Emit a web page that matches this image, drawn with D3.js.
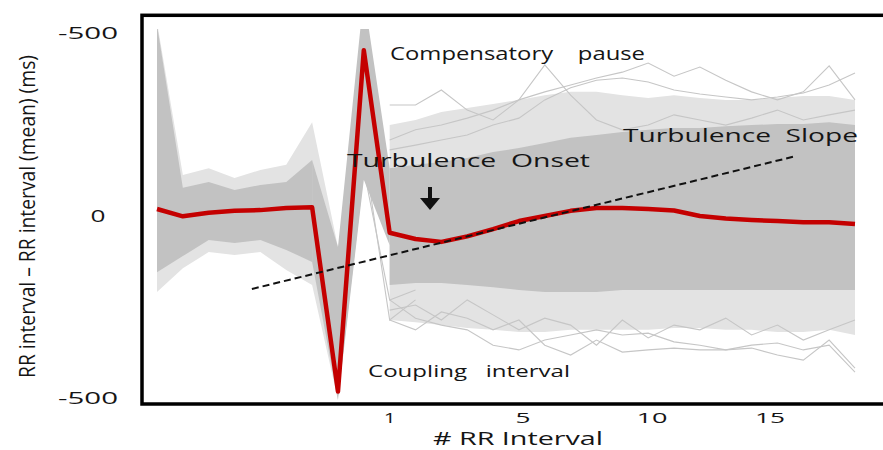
<!DOCTYPE html>
<html>
<head>
<meta charset="utf-8">
<script src="https://cdn.jsdelivr.net/npm/d3@7"></script>
<style>
  body { margin: 0; background: #fff; }
  svg { display: block; }
  text { font-family: "Open Sans", "DejaVu Sans", sans-serif; fill: #151515; white-space: pre; }
</style>
</head>
<body>
<svg id="chart" width="883" height="450"></svg>
<script>
// beat index 0..27 : 7 = coupling interval (PVC), 8 = compensatory pause, 9 = RR #1
const beats = d3.range(28);

// mean deviation RR - mean RR (ms), red curve
const meanDev = [-15, 5, -5, -10, -12, -18, -20, 485, -450, 50, 67, 75, 60, 40,
  18, 4, -10, -18, -18, -15, -11, 4, 11, 15, 18, 21, 21, 26];

// dense grey band of individual recordings (envelope, ms)
const preStart = 0;
const preCoreTop = [-519, -73, -89, -67, -81, -89, -149];
const preCoreBottom = [158, 114, 70, 78, 70, 97, 130];
const spikeStart = 6;
const spikeCoreTop = [-149, 89, -601, -127];
const spikeCoreBottom = [130, 508, -95, 84];
const postStart = 9;
const postCoreTop = [-127, -136, -144, -155, -171, -182, -196, -210, -218, -226,
  -232, -237, -237, -242, -245, -248, -248, -253, -245];
const postCoreBottom = [193, 188, 188, 193, 199, 207, 212, 212, 212, 207,
  207, 207, 207, 207, 207, 207, 207, 207, 207];

// sparser fringe of recordings around the dense band
const preHaloTop = [-527, -108, -127, -100, -122, -136, -253, 89];
const preHaloBottom = [212, 147, 103, 111, 103, 152, 193, 508];
const postHaloTop = [-245, -259, -281, -292, -303, -314, -327, -336, -336, -327,
  -319, -327, -319, -314, -314, -319, -325, -325, -314];
const postHaloBottom = [289, 295, 303, 311, 316, 322, 322, 316, 316, 316,
  316, 311, 311, 316, 316, 322, 322, 316, 330];

// a few single recordings that stand out of the band (start at beat 9)
const outlierTraces = [
  [-204, -232, -245, -264, -286, -314, -336, -355, -374, -390, -415, -379, -404, -368, -336, -314, -336, -407, -314],
  [-300, -300, -341, -286, -259, -314, -410, -327, -259, -232, -245, -273, -259, -245, -264, -286, -259, -273, -286],
  [-177, -190, -204, -218, -245, -264, -314, -347, -368, -374, -363, -341, -330, -322, -314, -322, -333, -355, -388],
  [234, 284, 303, 316, 358, 371, 344, 330, 316, 330, 325, 349, 358, 371, 358, 352, 371, 358, 432],
  [289, 316, 267, 284, 316, 289, 358, 385, 344, 377, 371, 366, 371, 371, 366, 385, 399, 344, 421],
  [262, 248, 289, 234, 275, 316, 284, 303, 358, 289, 338, 303, 316, 284, 330, 303, 344, 316, 289]
];
// recordings fanning out after the compensatory pause (start at beat 7)
const fanTraces = [
  [495, -177, 289, 234],
  [486, -122, 234, 207]
];

// turbulence slope regression line: [beat, ms]
const slopeLine = [[3.67, 204], [24.6, -158]];

const yTicks = [-500, 0, 500];
const yTickLabels = ["-500", "0", "-500"];
const xTickPos = [9, 14.16, 19.15, 23.71];
const xTickLabels = ["1", "5", "10", "15"];

const svg = d3.select("#chart");
const x = d3.scaleLinear().domain([0, 27]).range([157, 855]);
const y = d3.scaleLinear().domain([-500, 500]).range([32, 397]);

svg.append("clipPath").attr("id", "plotClip")
  .append("rect").attr("x", 144).attr("y", 29).attr("width", 739).attr("height", 373);

const plot = svg.append("g").attr("clip-path", "url(#plotClip)");

const band = (start, top, bottom) => top.map((t, i) => ({ b: start + i, top: t, bottom: bottom[i] }));
const area = d3.area().x(d => x(d.b)).y0(d => y(d.bottom)).y1(d => y(d.top));
const line = d3.line().x(d => x(d.b)).y(d => y(d.v));
const trace = (start, vals) => vals.map((v, i) => ({ b: start + i, v: v }));

// fringe
[band(preStart, preHaloTop, preHaloBottom), band(postStart, postHaloTop, postHaloBottom)]
  .forEach(d => plot.append("path").attr("d", area(d)).attr("fill", "#e3e3e3"));

// single outlying recordings
outlierTraces.forEach(t => plot.append("path").attr("d", line(trace(postStart, t)))
  .attr("fill", "none").attr("stroke", "#c6c6c6").attr("stroke-width", 1.1));
fanTraces.forEach(t => plot.append("path").attr("d", line(trace(7, t)))
  .attr("fill", "none").attr("stroke", "#c6c6c6").attr("stroke-width", 1.1));

// dense band
[band(preStart, preCoreTop, preCoreBottom), band(spikeStart, spikeCoreTop, spikeCoreBottom),
 band(postStart, postCoreTop, postCoreBottom)]
  .forEach(d => plot.append("path").attr("d", area(d)).attr("fill", "#c2c2c2"));

// mean curve
plot.append("path")
  .attr("d", line(beats.map(b => ({ b: b, v: meanDev[b] }))))
  .attr("fill", "none").attr("stroke", "#c40000").attr("stroke-width", 4.5)
  .attr("stroke-linejoin", "round");

// turbulence slope
plot.append("line")
  .attr("x1", x(slopeLine[0][0])).attr("y1", y(slopeLine[0][1]))
  .attr("x2", x(slopeLine[1][0])).attr("y2", y(slopeLine[1][1]))
  .attr("stroke", "#111").attr("stroke-width", 2).attr("stroke-dasharray", "7,4");

// text helper, widths follow the (stretched) original picture
function label(str, px, py, size, width, anchor) {
  return svg.append("text").attr("x", px).attr("y", py).attr("font-size", size)
    .attr("textLength", width).attr("lengthAdjust", "spacingAndGlyphs")
    .attr("text-anchor", anchor || "start").text(str);
}

// y ticks
const yTickWidth = [60, 15, 60];
yTicks.forEach((t, i) => label(yTickLabels[i], i === 1 ? 98 : 88, y(t) + 7, 17, yTickWidth[i], "middle"));

// x ticks
const xTickWidth = [12, 15, 31, 30];
xTickPos.forEach((p, i) => label(xTickLabels[i], x(p), 423, 15, xTickWidth[i], "middle"));

// axis titles
label("# RR Interval", 433, 445, 18, 170);
svg.append("text").attr("transform", "translate(35,216.5) rotate(-90)")
  .attr("font-size", 22).attr("textLength", 323).attr("lengthAdjust", "spacingAndGlyphs")
  .attr("text-anchor", "middle").text("RR interval – RR interval (mean) (ms)");

// annotations
label("Compensatory    pause", 390, 60, 18, 255);
label("Turbulence  Onset", 347, 167, 19, 243);
label("Turbulence  Slope", 623, 142, 19, 235);
label("Coupling   interval", 368, 377, 16.5, 202);

// onset arrow
svg.append("line").attr("x1", 430).attr("y1", 187).attr("x2", 430).attr("y2", 201)
  .attr("stroke", "#111").attr("stroke-width", 4);
svg.append("path").attr("d", "M420,198 L440,198 L430,210 Z").attr("fill", "#111");

// frame
svg.append("rect").attr("x", 142).attr("y", 15.3).attr("width", 800).attr("height", 388.7)
  .attr("fill", "none").attr("stroke", "#000").attr("stroke-width", 3.5);
</script>
</body>
</html>
